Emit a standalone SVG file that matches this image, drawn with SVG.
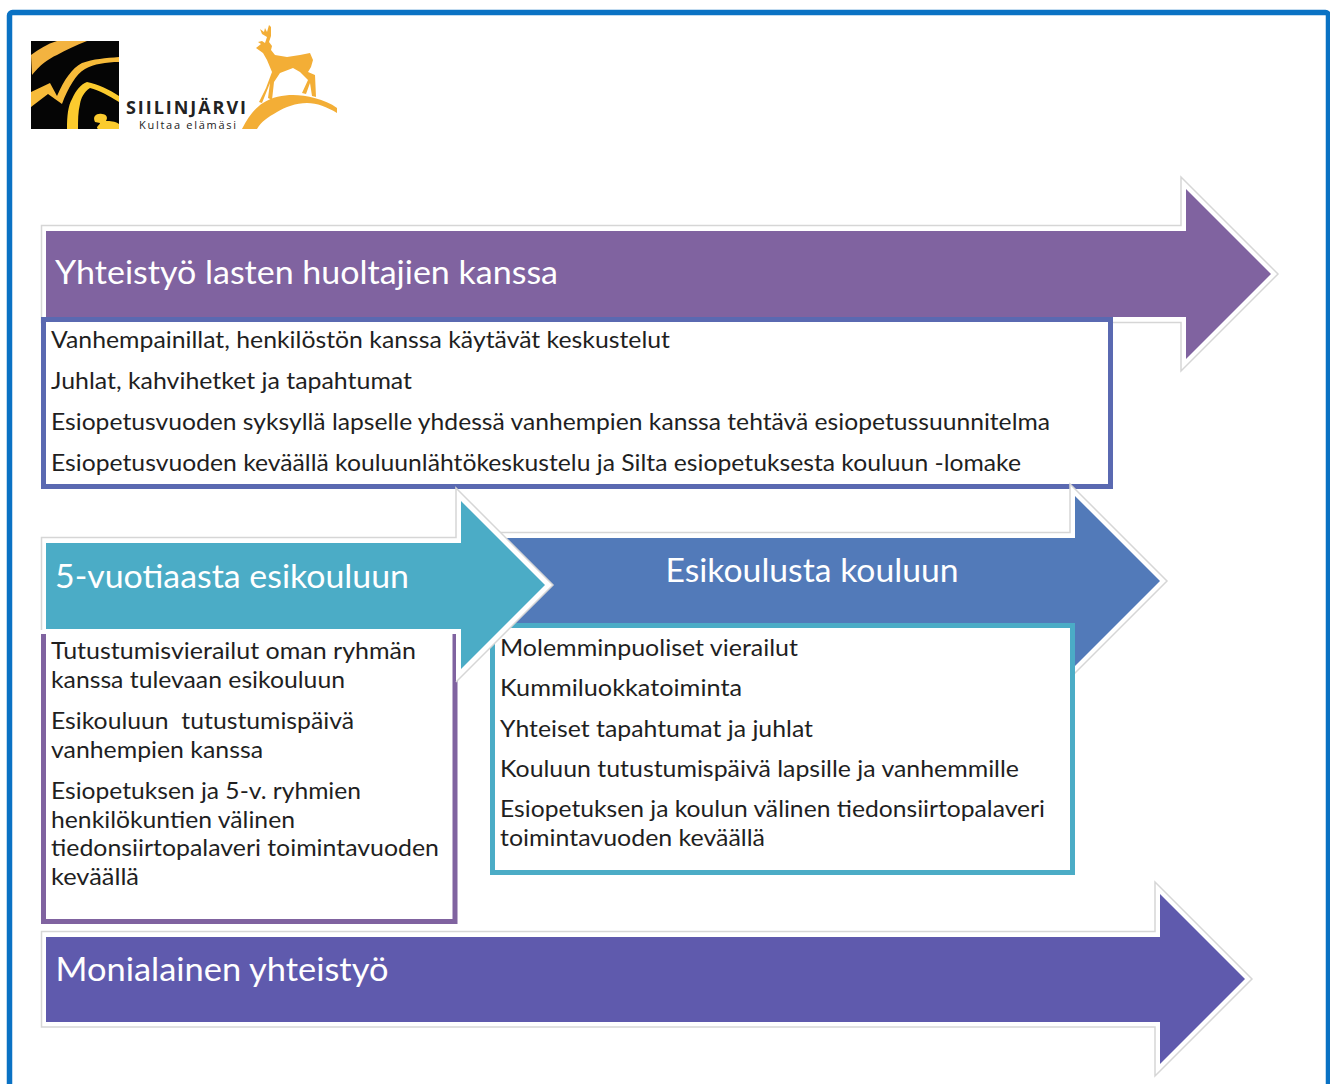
<svg xmlns="http://www.w3.org/2000/svg" width="1330" height="1084" viewBox="0 0 1330 1084">
<style>
text{font-family:"Lato","Liberation Sans",sans-serif}
.body{font-size:24px;fill:#1f1f1f}
.head{font-size:33px;fill:#fff}
.halo{fill:#fff;stroke:#d6d6d6;stroke-width:1.5}
.box{fill:#fff;stroke-width:5}
.logo{font-family:"Open Sans","Liberation Sans",sans-serif;fill:#222}
</style>
<rect width="1330" height="1084" fill="#fff"/>
<rect id="frame" x="9.500" y="12.500" width="1319" height="1100" rx="3" fill="#fff" stroke="#0a72c4" stroke-width="5.500"/>
<g id="logo">
<rect x="31" y="41" width="88" height="88" fill="#050505"/>
<path d="M32 75C40 65 48 59 57 55C66 50 76 45 87 41H57C47 44 39 49 31 55Z" fill="#f3b340"/>
<path d="M31 92L50 83L57 96C64 80 72 68 82 63C93 59 106 58 119 57V62C106 62 94 64 85 69C76 74 68 88 62 104L48 94L31 107Z" fill="#f7bb3a"/>
<path d="M67 129C67 116 68 106 72 99C76 90 81 84 87 82C98 84 110 90 119 96V102C109 96 99 90 90 88C84 92 81 98 80 104C78 112 78 120 78 129Z" fill="#fbcb2e"/>
<path d="M95 122C92 116 97 113 102 114C107 114 108 118 106 121C110 121 115 121 119 124V129H98C95 127 100 125 100 123Z" fill="#fbcb2e"/>
<path d="M242 129C248 117 255 108 263 103C272 97 283 95 293 95C306 95 325 99 337 108V113C327 107 317 103 307 103C296 103 285 107 277 112C268 117 261 122 257 129Z" fill="#f3ae36"/>
<path id="deer" d="M256 48L261 44L258 42L262 41L265 43L267 37L262 34L260 29L264 32L265 28L267 32L269 25L271 27L271 36L269 42L272 46L271 50L275 55L287 57L300 55L310 53L313 60L311 67L308 72L315 75L316 97L312 96L310 83L306 94L302 93L308 80L300 72L293 68L280 73L274 82L272 100L268 98L270 83L262 103L259 102L266 88L272 72L267 60L263 53Z" fill="#f3ae36"/>
<text class="logo" x="126" y="114" font-weight="700" font-size="18" textLength="120" lengthAdjust="spacing">SIILINJÄRVI</text>
<text class="logo" x="139" y="129" font-size="11" textLength="97" lengthAdjust="spacing">Kultaa elämäsi</text>
</g>
<g id="arrow-huoltajat">
<path class="halo" d="M41.500 225.500H1181V177L1278 274L1181 371V322.500H41.500Z"/>
<path d="M46 231H1186V189L1271 274L1186 359V317H46Z" fill="#8063a0"/>
<text class="head" x="55" y="284" textLength="503" lengthAdjust="spacingAndGlyphs">Yhteistyö lasten huoltajien kanssa</text>
</g>
<g id="box-huoltajat">
<rect class="box" x="43.500" y="319.500" width="1067" height="167" stroke="#5a69b1"/>
<text class="body" x="51" y="348.300" textLength="619" lengthAdjust="spacingAndGlyphs">Vanhempainillat, henkilöstön kanssa käytävät keskustelut</text>
<text class="body" x="51" y="389.300" textLength="361" lengthAdjust="spacingAndGlyphs">Juhlat, kahvihetket ja tapahtumat</text>
<text class="body" x="51" y="429.700" textLength="999" lengthAdjust="spacingAndGlyphs">Esiopetusvuoden syksyllä lapselle yhdessä vanhempien kanssa tehtävä esiopetussuunnitelma</text>
<text class="body" x="51" y="470.500" textLength="970" lengthAdjust="spacingAndGlyphs">Esiopetusvuoden keväällä kouluunlähtökeskustelu ja Silta esiopetuksesta kouluun -lomake</text>
</g>
<g id="arrow-koulu">
<path class="halo" d="M495 532.500H1070V484L1167 581L1070 678V630H495Z"/>
<path d="M505 538H1075V496L1160 581L1075 666V623H505Z" fill="#527ab9"/>
<text class="head" x="665.500" y="582" textLength="293" lengthAdjust="spacingAndGlyphs">Esikoulusta kouluun</text>
</g>
<g id="box-koulu">
<rect class="box" x="492.500" y="625.500" width="580" height="247" stroke="#4bacc6"/>
<text class="body" x="500" y="655.500" textLength="298" lengthAdjust="spacingAndGlyphs">Molemminpuoliset vierailut</text>
<text class="body" x="500" y="696.300" textLength="242" lengthAdjust="spacingAndGlyphs">Kummiluokkatoiminta</text>
<text class="body" x="500" y="737" textLength="313" lengthAdjust="spacingAndGlyphs">Yhteiset tapahtumat ja juhlat</text>
<text class="body" x="500" y="777.300" textLength="519" lengthAdjust="spacingAndGlyphs">Kouluun tutustumispäivä lapsille ja vanhemmille</text>
<text class="body" x="500" y="817.300" textLength="545" lengthAdjust="spacingAndGlyphs">Esiopetuksen ja koulun välinen tiedonsiirtopalaveri</text>
<text class="body" x="500" y="846.300" textLength="265" lengthAdjust="spacingAndGlyphs">toimintavuoden keväällä</text>
</g>
<g id="box-esikoulu">
<path d="M43.500 634V921.500H455V634" fill="#fff" stroke="#8063a0" stroke-width="5"/>
<text class="body" x="51" y="659.300" textLength="365" lengthAdjust="spacingAndGlyphs">Tutustumisvierailut oman ryhmän</text>
<text class="body" x="51" y="688.300" textLength="294" lengthAdjust="spacingAndGlyphs">kanssa tulevaan esikouluun</text>
<text class="body" x="51" y="729.300" textLength="303" lengthAdjust="spacingAndGlyphs" xml:space="preserve">Esikouluun  tutustumispäivä</text>
<text class="body" x="51" y="758.300" textLength="212" lengthAdjust="spacingAndGlyphs">vanhempien kanssa</text>
<text class="body" x="51" y="798.700" textLength="310" lengthAdjust="spacingAndGlyphs">Esiopetuksen ja 5-v. ryhmien</text>
<text class="body" x="51" y="827.700" textLength="244" lengthAdjust="spacingAndGlyphs">henkilökuntien välinen</text>
<text class="body" x="51" y="855.700" textLength="388" lengthAdjust="spacingAndGlyphs">tiedonsiirtopalaveri toimintavuoden</text>
<text class="body" x="51" y="885.300" textLength="88" lengthAdjust="spacingAndGlyphs">keväällä</text>
</g>
<g id="arrow-esikoulu">
<path d="M41.500 537.500H456V488L553 585L456 682V634H41.500Z" fill="#fff"/>
<path d="M41.500 630V537.500H456V488L553 585L456 682" fill="none" stroke="#d6d6d6" stroke-width="1.500"/>
<path d="M46 543H461V501L545 585L461 669V629H46Z" fill="#4bacc6"/>
<text class="head" x="55" y="588" textLength="354" lengthAdjust="spacingAndGlyphs">5-vuotiaasta esikouluun</text>
</g>
<g id="arrow-monialainen">
<path class="halo" d="M41.500 931.500H1155V882L1252 979L1155 1076V1027H41.500Z"/>
<path d="M46 937H1160V894L1245 979L1160 1064V1022H46Z" fill="#5f5aad"/>
<text class="head" x="55.500" y="981" textLength="333" lengthAdjust="spacingAndGlyphs">Monialainen yhteistyö</text>
</g>
</svg>
